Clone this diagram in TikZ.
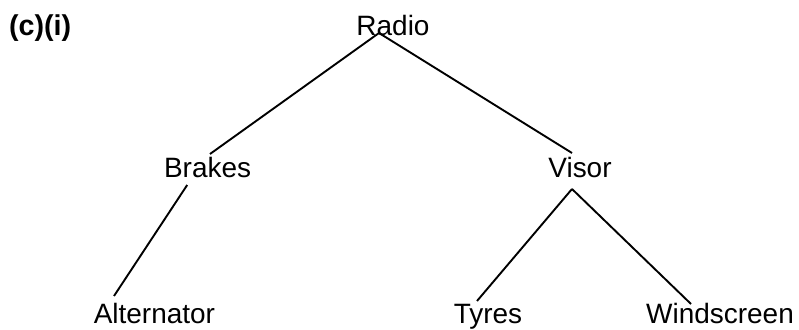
\documentclass[tikz,border=0pt]{standalone}
\usepackage{fontspec}
\setmainfont{Liberation Sans}
\usepackage{tikz}
\tikzset{
    every node/.style={inner sep=0pt, anchor=base,
    	font=\fontsize{19.9}{24}\selectfont}
}
\tikzset{
    every edge/.append style={line width=1.35pt}
}

\begin{document}
\begin{tikzpicture}
	\useasboundingbox (0cm, 0cm) rectangle (19.975cm, 8.225cm);
	\node (part) [anchor=base west, font=\fontsize{20.4}{24}\selectfont\bfseries] at (0.22cm, 7.325cm) {(c)(i)};
	\node (radio) at (9.825cm, 7.325cm) {Radio};
	\node (brakes) at (5.19cm, 3.775cm) {Brakes};
	\node (visor) at (14.5cm, 3.775cm) {Visor};
	\node (alt) at (3.86cm, 0.15cm) {Alternator};
	\node (tyres) at (12.2cm, 0.15cm) {Tyres};
	\node (wind) at (18.0cm, 0.15cm) {Windscreen};
	
	\draw ([xshift=-0.35cm, yshift=0.075cm]radio.base) edge ([xshift=0.06cm, yshift=0.6cm]brakes.base);
	\draw ([xshift=-0.35cm, yshift=0.075cm]radio.base) edge ([xshift=-0.2cm, yshift=0.625cm]visor.base);
	\draw ([xshift=-0.51cm, yshift=-0.175cm]brakes.base) edge ([xshift=-1.01cm, yshift=0.675cm]alt.base);
	\draw ([xshift=-0.2cm, yshift=-0.275cm]visor.base) edge ([xshift=-0.275cm, yshift=0.55cm]tyres.base);
	\draw ([xshift=-0.2cm, yshift=-0.275cm]visor.base) edge ([xshift=-0.725cm, yshift=0.475cm]wind.base);
\end{tikzpicture}
\end{document}
